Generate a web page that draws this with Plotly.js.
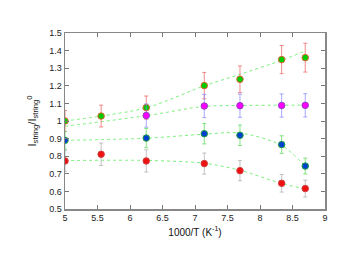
<!DOCTYPE html>
<html><head><meta charset="utf-8">
<script src="https://cdn.plot.ly/plotly-3.0.1.min.js"></script>
<style>html,body{margin:0;padding:0;background:#fff}#c{width:352px;height:272px}</style>
</head><body><div id="c"></div>
<script>
var xAll = [5, 5.556, 6.25, 7.143, 7.692, 8.333, 8.696];
var xMag = [6.25, 7.143, 7.692, 8.333, 8.696];
var xBlue = [5, 6.25, 7.143, 7.692, 8.333, 8.696];

var greenVals = [1.0, 1.028, 1.076, 1.201, 1.237, 1.349, 1.36];
var greenErr  = [0.06, 0.062, 0.066, 0.075, 0.076, 0.08, 0.082];
var magVals = [1.031, 1.085, 1.087, 1.088, 1.089];
var magErr  = [0.066, 0.066, 0.066, 0.066, 0.066];
var blueVals = [0.89, 0.903, 0.928, 0.919, 0.866, 0.744];
var blueErr  = [0.05, 0.055, 0.058, 0.058, 0.05, 0.045];
var redVals = [0.773, 0.811, 0.773, 0.758, 0.718, 0.646, 0.616];
var redErr  = [0.06, 0.064, 0.063, 0.06, 0.057, 0.05, 0.048];

var fitX = [5, 6.25, 7.143, 7.692, 8.333, 8.696];
var greenFit = [1.0, 1.075, 1.2, 1.265, 1.345, 1.398];
var magFit   = [0.97, 1.03, 1.083, 1.088, 1.09, 1.09];
var blueFit  = [0.89, 0.902, 0.925, 0.932, 0.862, 0.742];
var redFit   = [0.775, 0.776, 0.76, 0.72, 0.645, 0.615];

var yTitle = 'I<sub>string</sub>/I<sub>string</sub><sup>0</sup>';
var xTitle = '1000/T (K<sup>-1</sup>)';

function fit(y){return {x:fitX,y:y,mode:'lines',line:{color:'#7cf07c',width:1,dash:'dot',shape:'spline',smoothing:0.8},hoverinfo:'skip',showlegend:false};}
function pts(x,y,e,fill,outline,ecol){
  return {x:x,y:y,mode:'markers',showlegend:false,
    marker:{size:6.5,color:fill,line:{color:outline,width:1}},
    error_y:{type:'data',array:e,visible:true,color:ecol,thickness:1,width:2}};
}
var data = [
  fit(greenFit), fit(magFit), fit(blueFit), fit(redFit),
  pts(xAll, greenVals, greenErr, '#00cc00', '#e06030', 'rgba(240,100,100,0.75)'),
  pts(xMag, magVals, magErr, '#ff00ff', '#9040c0', 'rgba(130,130,255,0.7)'),
  pts(xBlue, blueVals, blueErr, '#0040d0', '#20a040', 'rgba(100,220,100,0.8)'),
  pts(xAll, redVals, redErr, '#ee1111', '#d04040', 'rgba(170,170,170,0.7)')
];
var axFont = {family:'Liberation Sans, Arial, sans-serif', size:9, color:'#222'};
var layout = {
  width:352, height:272,
  margin:{l:65, r:27, t:33, b:63},
  paper_bgcolor:'#fff', plot_bgcolor:'#fff',
  font:axFont,
  xaxis:{range:[5,9], dtick:0.5, tick0:5, showgrid:false, zeroline:false,
    ticks:'inside', ticklen:4, tickcolor:'#777', mirror:'ticks',
    showline:true, linecolor:'#888', linewidth:1.5, tickfont:axFont,
    title:{text:xTitle, font:{family:'Liberation Sans, Arial, sans-serif', size:10, color:'#111'}, standoff:6}},
  yaxis:{range:[0.5,1.5], dtick:0.1, tick0:0.5, showgrid:false, zeroline:false,
    ticks:'inside', ticklen:4, tickcolor:'#777', mirror:'ticks',
    showline:true, linecolor:'#888', linewidth:1.5, tickfont:axFont},
  annotations:[{text:yTitle, xref:'paper', yref:'paper', x:-0.125, y:0.5,
    xanchor:'center', yanchor:'middle', textangle:-90, showarrow:false,
    font:{family:'Liberation Sans, Arial, sans-serif', size:11, color:'#111'}}]
};
Plotly.newPlot('c', data, layout, {staticPlot:true, displayModeBar:false});
</script></body></html>
